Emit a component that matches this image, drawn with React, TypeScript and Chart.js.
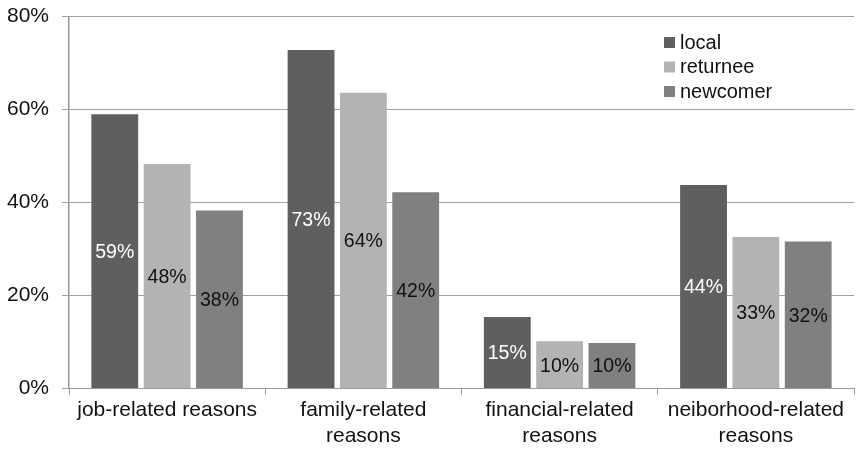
import React, { useEffect, useRef } from "react";
import { Chart, registerables } from "chart.js";

Chart.register(...registerables);

const categories: (string | string[])[] = [
  "job-related reasons",
  ["family-related", "reasons"],
  ["financial-related", "reasons"],
  ["neiborhood-related", "reasons"],
];
const seriesNames = ["local", "returnee", "newcomer"];
const localValues = [59.0, 72.8, 15.4, 43.8];
const returneeValues = [48.3, 63.6, 10.2, 32.6];
const newcomerValues = [38.3, 42.2, 9.8, 31.6];
const seriesColors = ["#5f5f5f", "#b3b3b3", "#808080"];
const labelColors = ["#ffffff", "#111111", "#111111"];
const yTicks = [0, 20, 40, 60, 80];

const FONT = "'Liberation Sans', Arial, sans-serif";

const dataLabelPlugin = {
  id: "dataLabels",
  afterDatasetsDraw(chart: any) {
    const ctx = chart.ctx;
    ctx.save();
    ctx.font = `19.5px ${FONT}`;
    ctx.textAlign = "center";
    ctx.textBaseline = "middle";
    chart.data.datasets.forEach((ds: any, di: number) => {
      const meta = chart.getDatasetMeta(di);
      meta.data.forEach((bar: any, i: number) => {
        const v = ds.data[i];
        const y = (bar.y + bar.base) / 2 + 1.5;
        ctx.fillStyle = labelColors[di];
        ctx.fillText(Math.round(v) + "%", bar.x, y);
      });
    });
    ctx.restore();
  },
};

const legendPlugin = {
  id: "customLegend",
  afterDraw(chart: any) {
    const ctx = chart.ctx;
    ctx.save();
    ctx.font = `20px ${FONT}`;
    ctx.textAlign = "left";
    ctx.textBaseline = "middle";
    const x0 = 664;
    const y0 = 42;
    const step = 24.5;
    chart.data.datasets.forEach((ds: any, i: number) => {
      const y = y0 + i * step;
      ctx.fillStyle = ds.backgroundColor;
      ctx.fillRect(x0, y - 5, 11, 11);
      ctx.fillStyle = "#111111";
      ctx.fillText(ds.label, x0 + 16, y + 1);
    });
    ctx.restore();
  },
};

export default function App() {
  const ref = useRef<HTMLCanvasElement | null>(null);
  useEffect(() => {
    document.body.style.margin = "0";
    const canvas = ref.current!;
    const allValues = [localValues, returneeValues, newcomerValues];
    const chart = new Chart(canvas, {
      type: "bar",
      data: {
        labels: categories,
        datasets: seriesNames.map((name, i) => ({
          label: name,
          data: allValues[i],
          backgroundColor: seriesColors[i],
          borderWidth: 0,
          categoryPercentage: 0.8,
          barPercentage: 0.895,
        })),
      },
      options: {
        responsive: false,
        animation: false,
        devicePixelRatio: 1,
        layout: { padding: { top: 0, right: 2, left: 0, bottom: 0 } },
        plugins: {
          legend: { display: false },
          tooltip: { enabled: false },
        },
        scales: {
          x: {
            grid: {
              offset: true,
              drawOnChartArea: false,
              drawTicks: true,
              tickLength: 6,
              color: "#999999",
            },
            border: { color: "#999999", width: 1 },
            ticks: {
              color: "#111111",
              font: { family: FONT, size: 21, lineHeight: 1.2 },
              padding: 3.5,
              maxRotation: 0,
              autoSkip: false,
            },
          },
          y: {
            min: 0,
            max: 80,
            afterFit: (scale: any) => {
              scale.width = 69;
              scale.paddingTop = 16.5;
              scale.paddingBottom = 0;
            },
            afterBuildTicks: (scale: any) => {
              scale.ticks = yTicks.map((v) => ({ value: v }));
            },
            grid: {
              color: "#a0a0a0",
              tickLength: 7,
              lineWidth: 1,
            },
            border: { color: "#999999", width: 1.5 },
            ticks: {
              color: "#111111",
              font: { family: FONT, size: 21 },
              padding: 13,
              callback: (v: any) => v + "%",
            },
          },
        },
      },
      plugins: [dataLabelPlugin, legendPlugin],
    });
    return () => chart.destroy();
  }, []);
  return <canvas ref={ref} width={856} height={452} style={{ display: "block" }} />;
}
